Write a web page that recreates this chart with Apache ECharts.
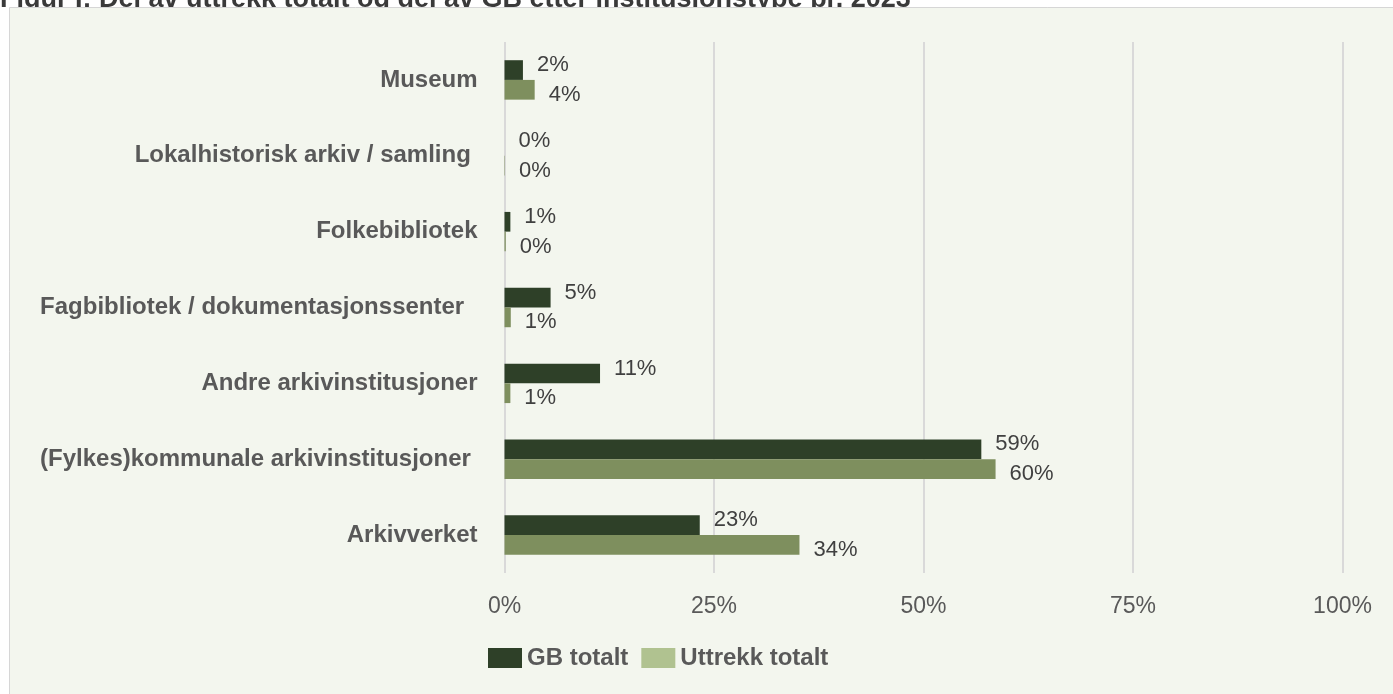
<!DOCTYPE html>
<html>
<head>
<meta charset="utf-8">
<script src="https://cdn.jsdelivr.net/npm/echarts@6/dist/echarts.min.js"></script>
<style>
  html, body { margin: 0; padding: 0; background: #ffffff; }
  #chart { width: 1393px; height: 694px; }
</style>
</head>
<body>
<div id="chart"></div>
<script>
// ---- Data ----
const titleText = 'Figur I: Del av uttrekk totalt og del av GB etter institusjonstype pr. 2023';
const categories = [
  'Museum',
  'Lokalhistorisk arkiv / samling ',
  'Folkebibliotek',
  'Fagbibliotek / dokumentasjonssenter  ',
  'Andre arkivinstitusjoner',
  '(Fylkes)kommunale arkivinstitusjoner ',
  'Arkivverket'
];
const seriesNames = ['GB totalt', 'Uttrekk totalt'];
// bar lengths (percent)
const gbValues = [2.2, 0, 0.7, 5.5, 11.4, 56.9, 23.3];
const uttrekkValues = [3.6, 0.05, 0.15, 0.75, 0.7, 58.6, 35.2];
// data labels as printed in the picture
const gbLabels = ['2%', '0%', '1%', '5%', '11%', '59%', '23%'];
const uttrekkLabels = ['4%', '0%', '0%', '1%', '1%', '60%', '34%'];
const xTicks = [0, 25, 50, 75, 100];

// ---- Chart ----
const chart = echarts.init(document.getElementById('chart'), null, { renderer: 'canvas' });
const font = 'Liberation Sans, Arial, sans-serif';

chart.setOption({
  backgroundColor: '#ffffff',
  animation: false,
  title: {
    text: titleText,
    left: 0,
    top: -14,
    padding: 0,
    z: 0,
    textStyle: { fontFamily: font, fontSize: 27, fontWeight: 'bold', color: '#3a3a3a' }
  },
  graphic: [{
    type: 'rect',
    z: 1,
    silent: true,
    shape: { x: 9.5, y: 7.5, width: 1400, height: 700 },
    style: { fill: '#f3f6ee', stroke: '#d6d6d6', lineWidth: 1 }
  }],
  legend: {
    z: 4,
    left: 483,
    top: 641,
    itemWidth: 34,
    itemHeight: 20,
    itemGap: 13,
    icon: 'rect',
    textStyle: { fontFamily: font, fontSize: 24, fontWeight: 'bold', color: '#595959' },
    data: [
      { name: seriesNames[0], itemStyle: { color: '#2e4028' } },
      { name: seriesNames[1], itemStyle: { color: '#b0c290' } }
    ]
  },
  grid: { left: 504.5, right: 50.5, top: 42, bottom: 121, containLabel: false },
  xAxis: {
    type: 'value',
    z: 2,
    min: 0,
    max: 100,
    interval: 25,
    axisLine: { show: false },
    axisTick: { show: false },
    splitLine: { show: true, lineStyle: { color: '#d9d9d9', width: 2 } },
    axisLabel: {
      margin: 22,
      fontFamily: font, fontSize: 23, color: '#595959',
      formatter: v => xTicks.indexOf(v) >= 0 ? v + '%' : ''
    }
  },
  yAxis: {
    type: 'category',
    z: 2,
    inverse: true,
    data: categories,
    axisLine: { show: false },
    axisTick: { show: false },
    axisLabel: {
      margin: 27,
      fontFamily: font, fontSize: 24, fontWeight: 'bold', color: '#595959'
    }
  },
  series: [
    {
      name: seriesNames[0],
      type: 'bar',
      z: 3,
      data: gbValues,
      barGap: '0%',
      barCategoryGap: '48%',
      itemStyle: { color: '#2e4028' },
      label: {
        show: true, position: 'right', distance: 14, offset: [0, -5],
        fontFamily: font, fontSize: 22, color: '#404040',
        formatter: p => gbLabels[p.dataIndex]
      }
    },
    {
      name: seriesNames[1],
      type: 'bar',
      z: 3,
      data: uttrekkValues,
      barGap: '0%',
      barCategoryGap: '48%',
      itemStyle: { color: '#7e8f5e' },
      label: {
        show: true, position: 'right', distance: 14, offset: [0, 5],
        fontFamily: font, fontSize: 22, color: '#404040',
        formatter: p => uttrekkLabels[p.dataIndex]
      }
    }
  ]
});
</script>
</body>
</html>
